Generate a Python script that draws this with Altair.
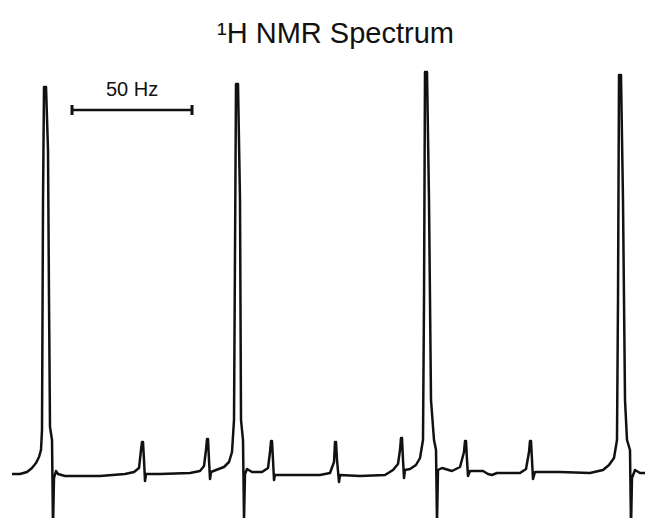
import altair as alt
import pandas as pd

# Frequency (Hz, relative to the left end of the trace) and intensity (arbitrary units, baseline = 0)
freq_hz = [
    0, 3.33, 6.25, 8.33, 10, 11.25, 12.08, 12.5, 12.92, 13.33, 14.17, 15, 15.42, 15.83, 16.67, 17.08,
    17.5, 18.33, 19.17, 22.08, 36.67, 47.08, 50.83, 52.92, 53.75, 54.17, 54.58, 55, 55.42, 55.83,
    61.67, 74.17, 78.33, 80, 80.83, 81.25, 81.67, 82.08, 82.5, 82.92, 85, 88.33, 90.42, 91.67,
    92.5, 92.92, 93.33, 94.17, 95, 95.42, 96.25, 96.67, 97.08, 97.92, 100, 104.17, 106.67, 107.5,
    107.92, 108.33, 108.75, 109.17, 109.58, 115.83, 128.33, 132.5, 134.17, 134.58, 135, 135.42,
    136.25, 136.67, 145, 155.42, 158.75, 160.83, 161.67, 162.08, 162.5, 162.92, 163.33, 163.75,
    165.83, 168.33, 170, 171.25, 171.67, 172.08, 172.92, 173.75, 174.58, 175.83, 176.67, 177.08,
    177.5, 179.17, 183.33, 186.67, 188.33, 188.75, 189.17, 189.58, 190, 190.83, 196.25, 198.33,
    200, 202.08, 211.67, 214.17, 215.42, 215.83, 216.25, 216.67, 217.08, 217.92, 228.33, 240.83,
    246.25, 248.75, 250.83, 252.08, 252.5, 252.92, 253.75, 254.58, 255.42, 256.25, 257.5, 257.92,
    258.33, 259.58, 261.67, 263.75,
]
intensity = [
    0, 0, 2, 6, 11, 17, 24, 44, 274, 387, 387, 324, 174, 47, 34, -54,
    -4, 3, 0, -2, -2, 0, 2, 6, 24, 32, 32, 14, -7, 0,
    0, 1, 3, 8, 24, 35, 35, 14, -5, 2, 4, 7, 12, 22,
    54, 224, 390, 390, 274, 54, 34, -46, 0, 5, 2, 2, 6, 22,
    33, 33, 14, -6, -1, -1, -1, 1, 12, 32, 32, 14,
    -8, -1, -2, -1, 4, 10, 24, 36, 36, 14, -4, 4,
    5, 9, 16, 34, 174, 402, 402, 274, 74, 34, 24, -49,
    4, 6, 3, 7, 22, 33, 33, 14, -2, 3, 3, 0,
    -1, 1, 1, 5, 22, 33, 33, 14, -5, 2, 2, 1,
    4, 9, 16, 34, 174, 399, 399, 274, 74, 34, 24, -54,
    -4, 4, 1, 1,
]

scale_bar_hz = [25, 75]
scale_bar_level = 364
scale_bar_cap = [359, 369]
scale_bar_label = "50 Hz"
scale_bar_label_level = 378
title_text = "¹H NMR Spectrum"

INK = "#111111"
FONT = "Liberation Sans"

spectrum = pd.DataFrame({"hz": freq_hz, "intensity": intensity, "order": list(range(len(freq_hz)))})
bar_df = pd.DataFrame({"start": [scale_bar_hz[0]], "end": [scale_bar_hz[1]], "level": [scale_bar_level]})
caps_df = pd.DataFrame({"hz": scale_bar_hz, "lo": [scale_bar_cap[0]] * 2, "hi": [scale_bar_cap[1]] * 2})
label_df = pd.DataFrame({"hz": [sum(scale_bar_hz) / 2], "level": [scale_bar_label_level], "text": [scale_bar_label]})

xs = alt.Scale(domain=[-1.67, 263.75], nice=False, zero=False)
ys = alt.Scale(domain=[-44, 416], nice=False, zero=False)

line = alt.Chart(spectrum).mark_line(
    color=INK, strokeWidth=2.5, clip=False, strokeJoin="round", interpolate="linear"
).encode(
    x=alt.X("hz:Q", scale=xs, axis=None),
    y=alt.Y("intensity:Q", scale=ys, axis=None),
    order="order:Q",
)

bar = alt.Chart(bar_df).mark_rule(color=INK, strokeWidth=2.6).encode(
    x=alt.X("start:Q", scale=xs, axis=None),
    x2="end:Q",
    y=alt.Y("level:Q", scale=ys, axis=None),
)

caps = alt.Chart(caps_df).mark_rule(color=INK, strokeWidth=3).encode(
    x=alt.X("hz:Q", scale=xs, axis=None),
    y=alt.Y("lo:Q", scale=ys, axis=None),
    y2="hi:Q",
)

label = alt.Chart(label_df).mark_text(
    font=FONT, fontSize=20, color=INK, align="center", baseline="alphabetic"
).encode(
    x=alt.X("hz:Q", scale=xs, axis=None),
    y=alt.Y("level:Q", scale=ys, axis=None),
    text="text:N",
)

chart = alt.layer(line, bar, caps, label).properties(
    width=637,
    height=460,
    autosize=alt.AutoSizeParams(type="none"),
    padding={"left": 0, "top": 50, "right": 0, "bottom": 0},
    title=alt.TitleParams(
        text=title_text, font=FONT, fontSize=29, fontWeight="normal", color=INK,
        anchor="middle", frame="group", baseline="alphabetic", offset=-14, dx=9,
    ),
    background="white",
).configure_view(stroke=None)

chart.save("out.html", embed_options={"renderer": "svg", "actions": False})
